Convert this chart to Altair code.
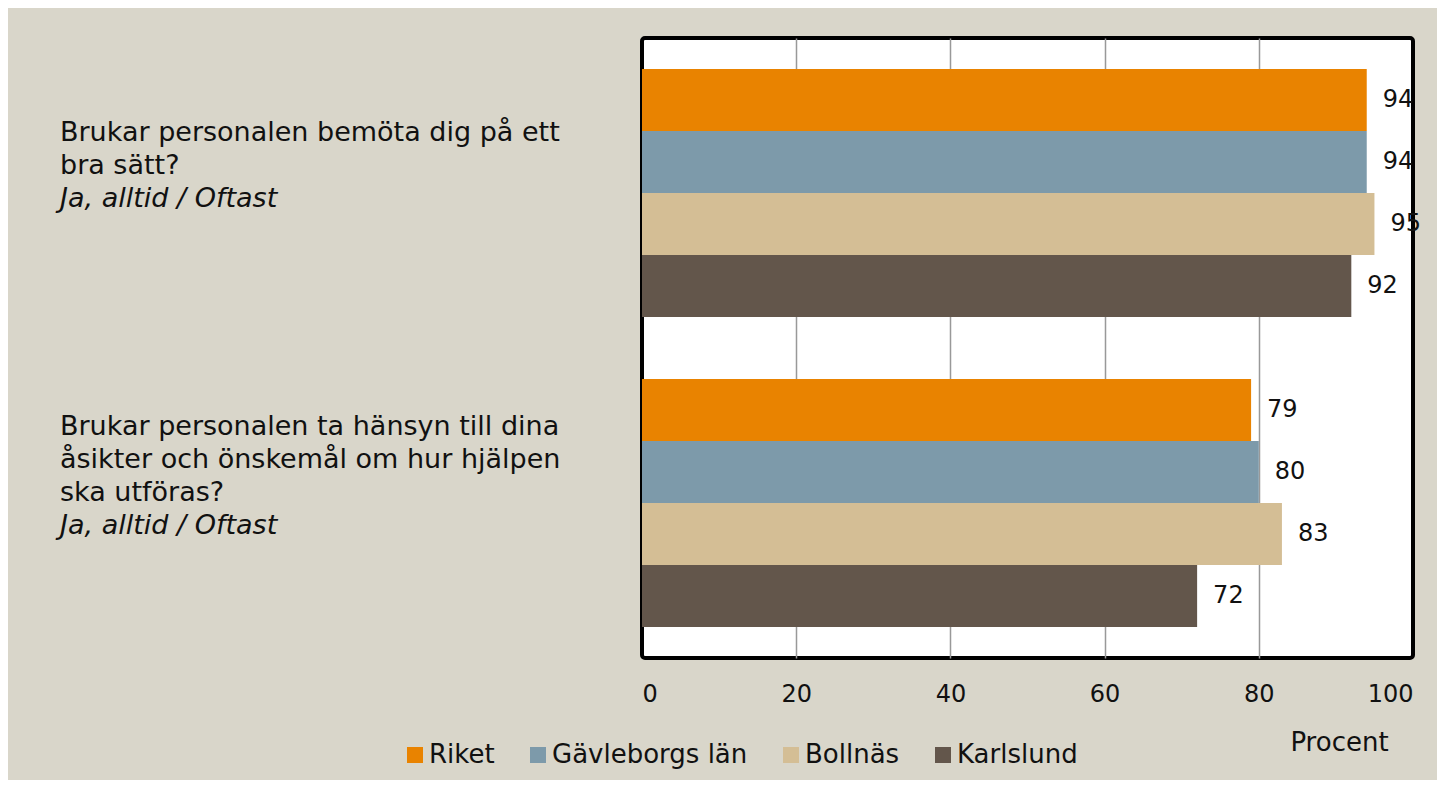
import altair as alt
import pandas as pd

questions = ["q1", "q2"]
question_text = [
    "Brukar personalen bemöta dig på ett\nbra sätt?",
    "Brukar personalen ta hänsyn till dina\nåsikter och önskemål om hur hjälpen\nska utföras?",
]
question_sub = ["Ja, alltid / Oftast", "Ja, alltid / Oftast"]
series = ["Riket", "Gävleborgs län", "Bollnäs", "Karlslund"]
values_q1 = [94, 94, 95, 92]
values_q2 = [79, 80, 83, 72]
colors = ["#E98300", "#7D9AAA", "#D4BE95", "#63564B"]
x_ticks = [0, 20, 40, 60, 80, 100]

rows = []
for q, vals in zip(questions, [values_q1, values_q2]):
    for s, v in zip(series, vals):
        rows.append({"q": q, "series": s, "value": v})
df = pd.DataFrame(rows)

lab = pd.DataFrame({"q": questions, "main": question_text, "sub": question_sub})

FONT = "DejaVu Sans"
BG = "#D9D6CA"
LH = 33

yscale = alt.Scale(domain=questions, paddingInner=0.2, paddingOuter=0.1)

left_base = alt.Chart(lab).transform_calculate(
    nmain="length(split(datum.main, '\\n'))"
).encode(
    y=alt.Y("q:N", scale=yscale, axis=None),
    x=alt.value(52),
)
left_main = left_base.mark_text(
    align="left", baseline="middle", fontSize=27, lineBreak="\n",
    lineHeight=LH, dy=alt.ExprRef(f"-27 - datum.nmain * {LH} / 2"),
    font=FONT, color="#111"
).encode(text="main:N")
left_sub = left_base.mark_text(
    align="left", baseline="middle", fontSize=27,
    dy=alt.ExprRef(f"-27 + datum.nmain * {LH} / 2"),
    font=FONT, fontStyle="italic", color="#111"
).encode(text="sub:N")
left = alt.layer(left_main, left_sub).properties(
    width=632, height=620,
    view=alt.ViewBackground(stroke="transparent", strokeWidth=0),
)

base = alt.Chart(df).encode(
    y=alt.Y("q:N", scale=yscale, axis=None),
    yOffset=alt.YOffset("series:N", sort=series,
                        scale=alt.Scale(paddingInner=0, paddingOuter=0)),
    x=alt.X(
        "value:Q",
        scale=alt.Scale(domain=[0, 100], nice=False),
        axis=alt.Axis(
            values=x_ticks, title="Procent", grid=True,
            gridColor="#999999", gridWidth=1.5,
            gridOpacity={"condition": {"test": "datum.value == 0 || datum.value == 100", "value": 0}, "value": 1},
            ticks=False, domain=False, labelPadding=24,
            labelFontSize=24, labelFont=FONT, labelColor="#111",
            titleFontSize=26, titleFont=FONT, titleFontWeight="normal",
            titleColor="#111", titleX=697, titleY=84, titleBaseline="middle",
            titleAlign="center",
        ),
    ),
)
bars = base.mark_bar().encode(
    color=alt.Color(
        "series:N", sort=series,
        scale=alt.Scale(domain=series, range=colors),
        legend=alt.Legend(
            title=None, orient="none", direction="horizontal",
            legendX=394, legendY=704, symbolType="square", symbolSize=256,
            symbolStrokeWidth=0, labelFontSize=26, labelFont=FONT,
            labelColor="#111", labelOffset=1, columnPadding=30,
            symbolOpacity=1, labelLimit=400,
        ),
    )
)
texts = base.mark_text(
    align="left", baseline="middle", dx=16, fontSize=24, font=FONT, color="#111"
).encode(text="value:Q")

main = alt.layer(bars, texts).properties(
    width=771, height=620,
    view=alt.ViewBackground(fill="white", stroke="black", strokeWidth=4, cornerRadius=3),
)

chart = alt.hconcat(left, main, spacing=0).properties(
    background=BG,
    padding={"left": 0, "top": 28, "right": 14, "bottom": 12},
).configure_view(strokeWidth=0).configure(font=FONT)

chart.save("out.html", embed_options={"renderer": "svg", "actions": False})
